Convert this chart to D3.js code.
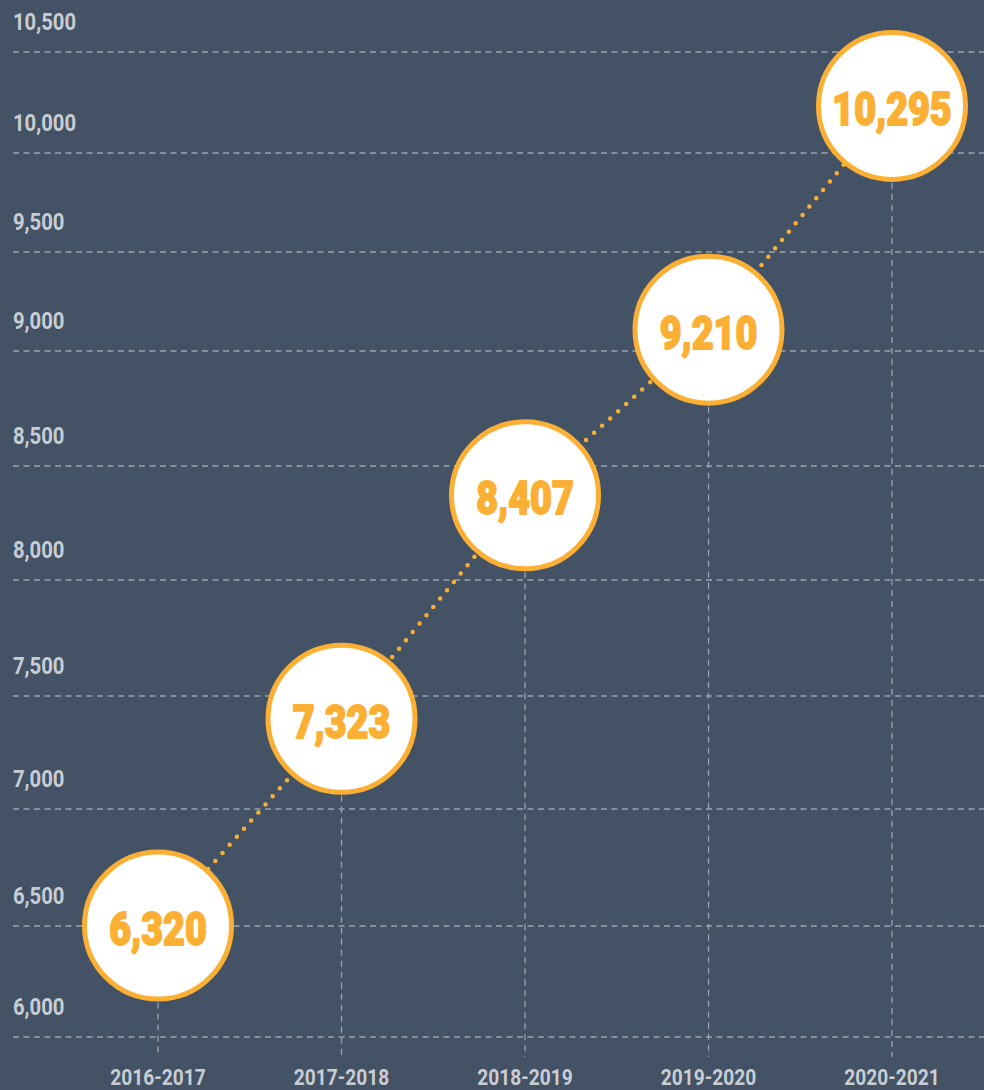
<!DOCTYPE html>
<html>
<head>
<meta charset="utf-8">
<script src="https://cdn.jsdelivr.net/npm/d3@7"></script>
<style>
  html, body { margin: 0; padding: 0; background: #435365; }
  svg { display: block; }
</style>
</head>
<body>
<svg id="chart" width="984" height="1090"></svg>
<script>
// ---- data ----
const categories = ["2016-2017", "2017-2018", "2018-2019", "2019-2020", "2020-2021"];
const values = [6320, 7323, 8407, 9210, 10295];
const yTicks = [6000, 6500, 7000, 7500, 8000, 8500, 9000, 9500, 10000, 10500];

// ---- style ----
const W = 984, H = 1090;
const bg = "#435365";
const orange = "#fbb035";
const gridColor = "#9ca3ad";
const labelColor = "#c9cdd3";

const svg = d3.select("#chart");
svg.append("rect").attr("width", W).attr("height", H).attr("fill", bg);

// ---- scales ----
const x = d3.scalePoint().domain(categories).range([158, 892]);
// gridline scale (the original grid is drawn with uneven spacing)
const yGrid = d3.scaleLinear()
  .domain(yTicks)
  .range([1037, 926, 809, 696, 580, 466, 351, 252, 153, 52]);
// point scale
const yPt = d3.scaleLinear().domain([6000, 10500]).range([991.6, 63.6]);
const fmt = d3.format(",");

// ---- horizontal gridlines ----
svg.append("g").selectAll("line").data(yTicks).join("line")
  .attr("x1", 13).attr("x2", W)
  .attr("y1", d => yGrid(d)).attr("y2", d => yGrid(d))
  .attr("stroke", gridColor).attr("stroke-width", 1.3)
  .attr("stroke-dasharray", "6 4.5");

// ---- y labels ----
svg.append("g").selectAll("text").data(yTicks).join("text")
  .attr("transform", d => `translate(13,${yGrid(d) - 22}) scale(0.88,1)`)
  .attr("font-family", "Roboto, 'Liberation Sans', sans-serif")
  .attr("font-weight", 700)
  .attr("font-size", 23)
  .attr("fill", labelColor)
  .text(d => fmt(d));

// ---- vertical drop lines ----
svg.append("g").selectAll("line").data(values).join("line")
  .attr("x1", (d, i) => x(categories[i])).attr("x2", (d, i) => x(categories[i]))
  .attr("y1", d => yPt(d)).attr("y2", 1057)
  .attr("stroke", gridColor).attr("stroke-width", 1.3)
  .attr("stroke-dasharray", "6 5");

// ---- x labels ----
svg.append("g").selectAll("text").data(categories).join("text")
  .attr("transform", d => `translate(${x(d)},1085) scale(0.85,1)`)
  .attr("text-anchor", "middle")
  .attr("font-family", "Roboto, 'Liberation Sans', sans-serif")
  .attr("font-weight", 700)
  .attr("font-size", 22.5)
  .attr("fill", labelColor)
  .text(d => d);

// ---- dotted connector ----
const pts = values.map((v, i) => [x(categories[i]), yPt(v)]);
svg.append("path")
  .attr("d", d3.line()(pts))
  .attr("fill", "none")
  .attr("stroke", orange)
  .attr("stroke-width", 4.5)
  .attr("stroke-linecap", "round")
  .attr("stroke-dasharray", "0 10.8");

// ---- bubbles ----
const g = svg.append("g").selectAll("g").data(values).join("g")
  .attr("transform", (d, i) => `translate(${x(categories[i])},${yPt(d)})`);
g.append("circle")
  .attr("r", 73.5)
  .attr("fill", "#ffffff")
  .attr("stroke", orange)
  .attr("stroke-width", 5);
g.append("text")
  .attr("transform", "translate(0,19) scale(0.82,1)")
  .attr("text-anchor", "middle")
  .attr("font-family", "Roboto, 'Liberation Sans', sans-serif")
  .attr("font-weight", 900)
  .attr("font-size", 46)
  .attr("fill", orange)
  .attr("stroke", orange)
  .attr("stroke-width", 1.8)
  .attr("stroke-linejoin", "round")
  .text(d => fmt(d));
</script>
</body>
</html>
